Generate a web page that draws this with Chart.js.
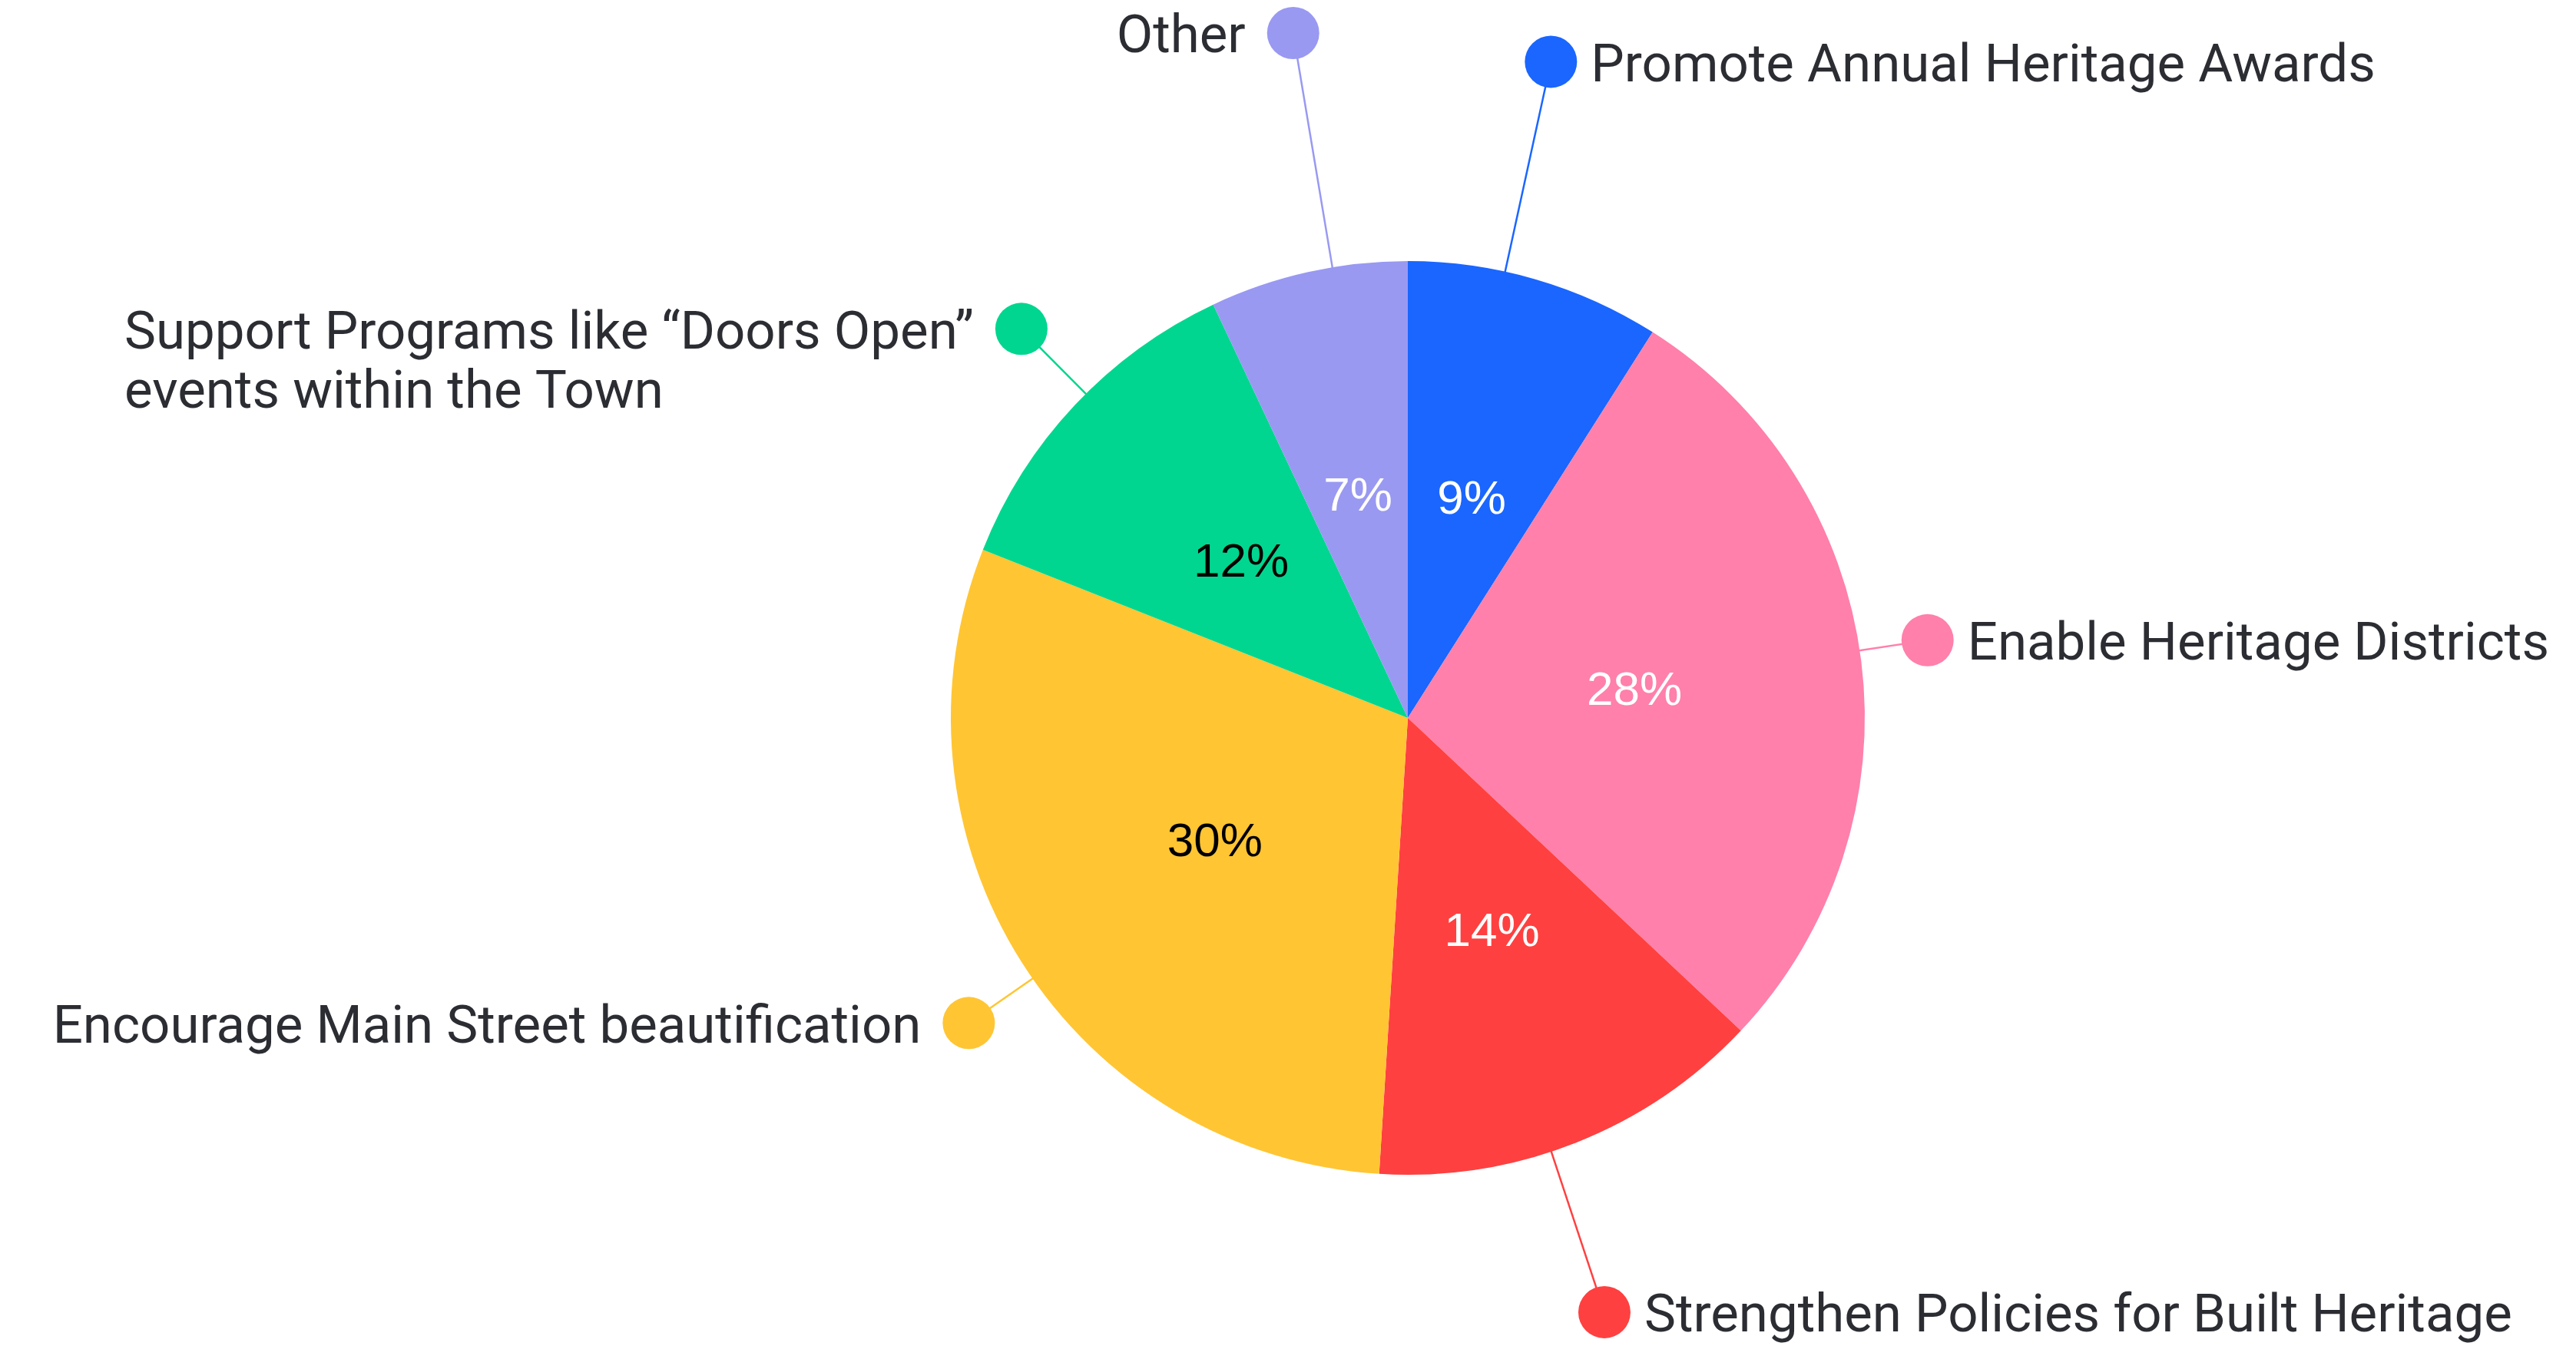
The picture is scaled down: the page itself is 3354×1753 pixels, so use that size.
<!DOCTYPE html>
<html>
<head>
<meta charset="utf-8">
<script src="https://cdn.jsdelivr.net/npm/chart.js@4/dist/chart.umd.min.js"></script>
<style>
  html, body { margin: 0; padding: 0; background: #ffffff; }
  #wrap { width: 3354px; height: 1753px; }
</style>
</head>
<body>
<div id="wrap"><canvas id="pieChart"></canvas></div>
<script>
// Categories, clockwise from 12 o'clock
var categories = [
  'Promote Annual Heritage Awards',
  'Enable Heritage Districts',
  'Strengthen Policies for Built Heritage',
  'Encourage Main Street beautification',
  ['Support Programs like “Doors Open”', 'events within the Town'],
  'Other'
];

// Share of responses (%)
var shares = [9, 28, 14, 30, 12, 7];

var sliceColors = ['#1a66ff', '#ff80aa', '#ff4040', '#ffc533', '#00d68f', '#9999f2'];
var percentColors = ['#ffffff', '#ffffff', '#ffffff', '#000000', '#000000', '#ffffff'];

// callout placement: angle in degrees clockwise from top, distance as multiple of the pie radius
var calloutAngle = [12.3, 81.5, 161.7, 235.2, 315.2, 350.5];
var calloutDist = [1.47, 1.15, 1.37, 1.17, 1.20, 1.52];

var calloutPlugin = {
  id: 'callouts',
  afterDatasetsDraw: function(chart) {
    var ctx = chart.ctx;
    var meta = chart.getDatasetMeta(0);
    ctx.save();
    meta.data.forEach(function(arc, i) {
      var cx = arc.x, cy = arc.y, r = arc.outerRadius;

      // percentage inside the slice
      var mid = arc.getCenterPoint();
      ctx.font = '62px "Liberation Sans", Arial, sans-serif';
      ctx.fillStyle = percentColors[i];
      ctx.textAlign = 'center';
      ctx.textBaseline = 'middle';
      ctx.fillText(shares[i] + '%', mid.x, mid.y + 3);

      // leader line and dot
      var a = (calloutAngle[i] - 90) * Math.PI / 180;
      var d = calloutDist[i] * r;
      var dx = cx + Math.cos(a) * d;
      var dy = cy + Math.sin(a) * d;
      ctx.strokeStyle = sliceColors[i];
      ctx.lineWidth = 2.5;
      ctx.beginPath();
      ctx.moveTo(cx + Math.cos(a) * (r - 4), cy + Math.sin(a) * (r - 4));
      ctx.lineTo(dx, dy);
      ctx.stroke();
      ctx.fillStyle = sliceColors[i];
      ctx.beginPath();
      ctx.arc(dx, dy, 34, 0, Math.PI * 2);
      ctx.fill();

      // category text
      var lines = Array.isArray(categories[i]) ? categories[i] : [categories[i]];
      ctx.font = '69px Roboto, sans-serif';
      ctx.fillStyle = '#2b2d33';
      ctx.textAlign = 'left';
      ctx.textBaseline = 'middle';
      var tx;
      if (dx > cx) {
        tx = dx + 52;
      } else {
        var w = Math.max.apply(null, lines.map(function(s) { return ctx.measureText(s).width; }));
        tx = dx - 62 - w;
      }
      lines.forEach(function(s, j) {
        ctx.fillText(s, tx, dy + 8 + j * 77);
      });
    });
    ctx.restore();
  }
};

var pieCtx = document.getElementById('pieChart').getContext('2d');

var pieChart = new Chart(pieCtx, {
  type: 'pie',
  data: {
    labels: categories,
    datasets: [{
      data: shares,
      backgroundColor: sliceColors,
      borderWidth: 0
    }]
  },
  options: {
    responsive: true,
    maintainAspectRatio: false,
    animation: false,
    layout: {
      padding: { left: 1238, right: 926, top: 340, bottom: 223 }
    },
    plugins: {
      legend: { display: false },
      tooltip: { enabled: false }
    }
  },
  plugins: [calloutPlugin]
});
</script>
</body>
</html>
